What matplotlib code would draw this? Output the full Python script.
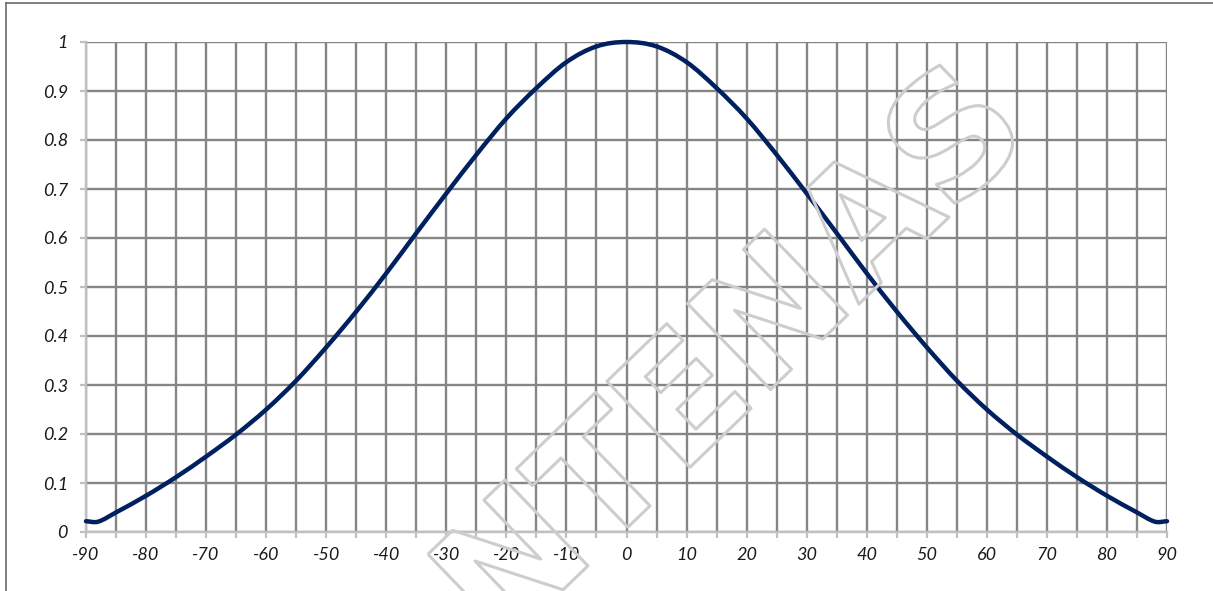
import matplotlib
matplotlib.use("Agg")
import matplotlib.pyplot as plt
import matplotlib.patheffects as pe
from matplotlib.lines import Line2D
from matplotlib.path import Path
from matplotlib.patches import PathPatch

# ---- data ----
angles = [-90, -88, -85, -80, -75, -70, -65, -60, -55, -50, -45, -40, -35, -30, -25, -20, -15, -10, -5,
          0, 5, 10, 15, 20, 25, 30, 35, 40, 45, 50, 55, 60, 65, 70, 75, 80, 85, 88, 90]
gain = [0.022, 0.021, 0.040, 0.074, 0.112, 0.154, 0.199, 0.250, 0.309, 0.377, 0.450, 0.528, 0.610,
        0.691, 0.770, 0.844, 0.906, 0.959, 0.991,
        1.000, 0.991, 0.959, 0.906, 0.844, 0.770, 0.691, 0.610, 0.528, 0.450, 0.377, 0.309, 0.250, 0.199,
        0.154, 0.112, 0.074, 0.040, 0.021, 0.022]
x_ticks = list(range(-90, 91, 10))
x_minor = list(range(-90, 91, 5))
y_ticks = [0, 0.1, 0.2, 0.3, 0.4, 0.5, 0.6, 0.7, 0.8, 0.9, 1]
y_labels = ["0", "0.1", "0.2", "0.3", "0.4", "0.5", "0.6", "0.7", "0.8", "0.9", "1"]
x_labels = [str(v) for v in x_ticks]
watermark = "ANTENAS"

W, H = 1213, 591
fig = plt.figure(figsize=(W / 100, H / 100), dpi=100)
fig.patch.set_facecolor("white")

ax = fig.add_axes([86 / W, 1 - 532 / H, (1167 - 86) / W, (532 - 42) / H])
ax.set_xlim(-90, 90)
ax.set_ylim(0, 1)

grid_c = "#858585"
axis_c = "#c0c0c0"

ax.set_xticks(x_ticks)
ax.set_xticks(x_minor, minor=True)
ax.set_yticks(y_ticks)
ax.set_xticklabels(x_labels)
ax.set_yticklabels(y_labels)

for lab in ax.get_xticklabels() + ax.get_yticklabels():
    lab.set_fontfamily(["Lato", "DejaVu Sans"])
    lab.set_fontstyle("italic")
    lab.set_fontsize(13)
    lab.set_color("#1a1a1a")

ax.grid(True, which="both", axis="x", color=grid_c, lw=1.7)
ax.grid(True, which="major", axis="y", color=grid_c, lw=1.7)
ax.set_axisbelow(True)

for s in ["top", "right"]:
    ax.spines[s].set_visible(False)
for s in ["left", "bottom"]:
    ax.spines[s].set_color(axis_c)
    ax.spines[s].set_linewidth(1.7)

ax.tick_params(axis="x", which="both", direction="out", length=4.5, width=1.6, color=axis_c, pad=6)
ax.tick_params(axis="y", which="major", direction="out", length=4, width=1.6, color=axis_c, pad=9)

# watermark (outlined text)
fig.text(690 / W, 1 - 404 / H, watermark, rotation=44, rotation_mode="anchor",
         ha="center", va="center", fontsize=118, fontweight="bold", family="DejaVu Sans",
         color=(1, 1, 1, 0), zorder=1.5,
         path_effects=[pe.withStroke(linewidth=2.2, foreground="#cdcdcd")])

# smoothed line (cubic Bezier through the data points, like a spreadsheet "smoothed line")
n = len(angles)
verts = [(angles[0], gain[0])]
codes = [Path.MOVETO]
for i in range(n - 1):
    x0, y0 = angles[max(i - 1, 0)], gain[max(i - 1, 0)]
    x1, y1 = angles[i], gain[i]
    x2, y2 = angles[i + 1], gain[i + 1]
    x3, y3 = angles[min(i + 2, n - 1)], gain[min(i + 2, n - 1)]
    h = x2 - x1
    c1 = (x1 + h / 3, y1 + (y2 - y0) / (x2 - x0) * h / 3)
    c2 = (x2 - h / 3, y2 - (y3 - y1) / (x3 - x1) * h / 3)
    verts += [c1, c2, (x2, y2)]
    codes += [Path.CURVE4] * 3
ax.add_patch(PathPatch(Path(verts, codes), facecolor="none", edgecolor="#002060", lw=3.2,
                       capstyle="round", joinstyle="round", zorder=5, clip_on=False))

# outer border (top and left)
fig.add_artist(Line2D([6 / W, 1], [1 - 3 / H, 1 - 3 / H], transform=fig.transFigure, color="#6a6a6a", lw=1.2))
fig.add_artist(Line2D([6 / W, 6 / W], [0, 1 - 3 / H], transform=fig.transFigure, color="#6a6a6a", lw=1.2))

fig.savefig("out.png", dpi=100)
